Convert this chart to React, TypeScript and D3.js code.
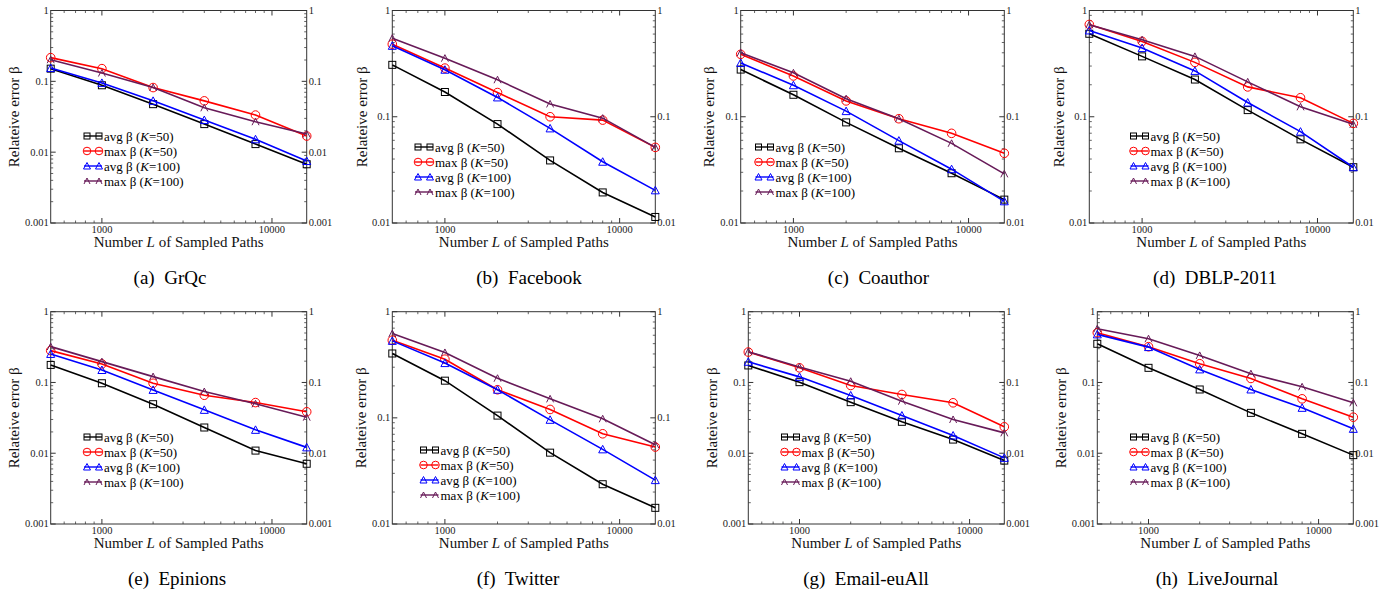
import React from "react";
import * as d3 from "d3";

// ---------- data ----------
const sampledPaths = [500, 1000, 2000, 4000, 8000, 16000];
const datasetNames = ["GrQc", "Facebook", "Coauthor", "DBLP-2011", "Epinions", "Twitter", "Email-euAll", "LiveJournal"];
const panelLetters = ["a", "b", "c", "d", "e", "f", "g", "h"];
const yMinValues = [0.001, 0.01, 0.01, 0.01, 0.001, 0.01, 0.001, 0.001];
const xTickLabels = ["1000", "10000"];
const seriesLabels = ["avg β", "max β", "avg β", "max β"];
const seriesK = ["50", "50", "100", "100"];

const avgK50 = [
  [0.151, 0.088, 0.0476, 0.0249, 0.013, 0.00675],
  [0.308, 0.171, 0.0853, 0.0388, 0.0194, 0.0114],
  [0.278, 0.161, 0.0885, 0.0505, 0.0294, 0.0166],
  [0.604, 0.37, 0.224, 0.1155, 0.0613, 0.0335],
  [0.177, 0.0975, 0.0493, 0.0231, 0.0109, 0.0071],
  [0.404, 0.224, 0.105, 0.047, 0.0237, 0.0142],
  [0.174, 0.101, 0.0527, 0.0278, 0.0156, 0.00787],
  [0.352, 0.161, 0.0796, 0.0372, 0.0188, 0.0094],
];
const maxK50 = [
  [0.216, 0.151, 0.0817, 0.053, 0.0334, 0.0169],
  [0.482, 0.287, 0.169, 0.1, 0.093, 0.0515],
  [0.387, 0.242, 0.141, 0.0958, 0.0698, 0.0453],
  [0.739, 0.512, 0.325, 0.191, 0.151, 0.0866],
  [0.282, 0.183, 0.0975, 0.066, 0.052, 0.0385],
  [0.539, 0.357, 0.184, 0.12, 0.0708, 0.0531],
  [0.269, 0.161, 0.0907, 0.0676, 0.0516, 0.0236],
  [0.505, 0.32, 0.184, 0.114, 0.0587, 0.0323],
];
const avgK100 = [
  [0.154, 0.095, 0.053, 0.0284, 0.0152, 0.0075],
  [0.465, 0.277, 0.152, 0.0777, 0.0377, 0.0203],
  [0.321, 0.198, 0.113, 0.0596, 0.0321, 0.016],
  [0.649, 0.443, 0.27, 0.136, 0.0724, 0.0335],
  [0.253, 0.15, 0.0785, 0.041, 0.0214, 0.0121],
  [0.531, 0.328, 0.184, 0.0958, 0.0505, 0.0259],
  [0.196, 0.12, 0.0655, 0.0341, 0.0178, 0.0086],
  [0.478, 0.316, 0.153, 0.0796, 0.0438, 0.0221],
];
const maxK100 = [
  [0.202, 0.131, 0.082, 0.0423, 0.0269, 0.018],
  [0.549, 0.356, 0.223, 0.132, 0.097, 0.0515],
  [0.401, 0.259, 0.148, 0.0958, 0.0562, 0.029],
  [0.734, 0.531, 0.37, 0.213, 0.124, 0.0848],
  [0.321, 0.197, 0.121, 0.0744, 0.0499, 0.0323],
  [0.622, 0.413, 0.236, 0.151, 0.098, 0.0558],
  [0.272, 0.165, 0.104, 0.0544, 0.03, 0.0194],
  [0.575, 0.415, 0.241, 0.133, 0.0868, 0.0516],
];
const allSeries = [avgK50, maxK50, avgK100, maxK100];

// ---------- layout & style ----------
const COLORS = ["#000000", "#ff0000", "#0000ff", "#671a58"];
const MARKERS = ["square", "circle", "triangle", "caret"];
const FONT = "Liberation Serif";

const LAYOUT = [
  { l: 50.7, r: 306.7, t: 10.5, b: 223, yt: 14, cap: 170, lx: 84, ly: 136 },
  { l: 392.3, r: 655.3, t: 10.5, b: 223, yt: 361.5, cap: 529, lx: 415, ly: 147 },
  { l: 740.7, r: 1004.3, t: 10.5, b: 223, yt: 708.5, cap: 878.5, lx: 755.5, ly: 147 },
  { l: 1089.3, r: 1353.3, t: 10.5, b: 223, yt: 1058.5, cap: 1215, lx: 1130.5, ly: 136 },
  { l: 50.7, r: 306.7, t: 311.7, b: 524, yt: 14, cap: 177, lx: 84, ly: 437 },
  { l: 392.3, r: 655.3, t: 311.7, b: 524, yt: 360.5, cap: 518, lx: 420.5, ly: 450 },
  { l: 748.3, r: 1004.3, t: 311.7, b: 524, yt: 712, cap: 866, lx: 781.5, ly: 437 },
  { l: 1097.3, r: 1353.3, t: 311.7, b: 524, yt: 1060.5, cap: 1217, lx: 1130.5, ly: 437 },
];

function Marker({ type, x, y, color, s }: { type: string; x: number; y: number; color: string; s: number }) {
  const h = s / 2;
  if (type === "square")
    return <rect x={x - h} y={y - h} width={s} height={s} fill="none" stroke={color} strokeWidth={1} />;
  if (type === "circle") return <circle cx={x} cy={y} r={h + 0.8} fill="none" stroke={color} strokeWidth={1} />;
  if (type === "triangle")
    return (
      <path
        d={`M${x - h - 0.5},${y + h} L${x},${y - h - 0.5} L${x + h + 0.5},${y + h} Z`}
        fill="none"
        stroke={color}
        strokeWidth={1}
      />
    );
  return (
    <path d={`M${x - h},${y + h} L${x},${y - h} L${x + h},${y + h}`} fill="none" stroke={color} strokeWidth={1} />
  );
}

function Panel({ i }: { i: number }) {
  const L = LAYOUT[i];
  const x = d3.scaleLog().domain([500, 16000]).range([L.l, L.r]);
  const y = d3.scaleLog().domain([yMinValues[i], 1]).range([L.b, L.t]);
  const line = d3
    .line<number>()
    .x((_, j) => x(sampledPaths[j]))
    .y((v) => y(v));

  const yMajor: number[] = [];
  const yMinor: number[] = [];
  for (let e = Math.round(Math.log10(yMinValues[i])); e <= 0; e++) {
    yMajor.push(Math.pow(10, e));
    if (e < 0) for (let m = 2; m <= 9; m++) yMinor.push(m * Math.pow(10, e));
  }
  const xMajor = [1000, 10000];
  const xMinor = [600, 700, 800, 900, 2000, 3000, 4000, 5000, 6000, 7000, 8000, 9000];
  const axisColor = "#333";
  const fmt = (v: number) => (v >= 1 ? "1" : String(+v.toPrecision(1)));

  return (
    <g>
      {yMajor.map((v) => (
        <g key={"ym" + v}>
          <line x1={L.l} x2={L.l + 5} y1={y(v)} y2={y(v)} stroke={axisColor} />
          <line x1={L.r} x2={L.r - 5} y1={y(v)} y2={y(v)} stroke={axisColor} />
          <text x={L.l - 2} y={y(v)} dy="0.33em" textAnchor="end" fontSize={10.5} fill="#222">
            {fmt(v)}
          </text>
          <text x={L.r + 2} y={y(v)} dy="0.33em" textAnchor="start" fontSize={10.5} fill="#222">
            {fmt(v)}
          </text>
        </g>
      ))}
      {yMinor.map((v) => (
        <g key={"yn" + v}>
          <line x1={L.l} x2={L.l + 2.5} y1={y(v)} y2={y(v)} stroke="#666" />
          <line x1={L.r} x2={L.r - 2.5} y1={y(v)} y2={y(v)} stroke="#666" />
        </g>
      ))}
      {xMajor.map((v, k) => (
        <g key={"xm" + v}>
          <line x1={x(v)} x2={x(v)} y1={L.b} y2={L.b - 5} stroke={axisColor} />
          <line x1={x(v)} x2={x(v)} y1={L.t} y2={L.t + 5} stroke={axisColor} />
          <text x={x(v)} y={L.b + 9.5} textAnchor="middle" fontSize={10.5} fill="#222">
            {xTickLabels[k]}
          </text>
        </g>
      ))}
      {xMinor.map((v) => (
        <g key={"xn" + v}>
          <line x1={x(v)} x2={x(v)} y1={L.b} y2={L.b - 2.5} stroke="#666" />
          <line x1={x(v)} x2={x(v)} y1={L.t} y2={L.t + 2.5} stroke="#666" />
        </g>
      ))}
      <rect x={L.l} y={L.t} width={L.r - L.l} height={L.b - L.t} fill="none" stroke={axisColor} strokeWidth={1} />

      {allSeries.map((s, k) => (
        <g key={"s" + k}>
          <path d={line(s[i]) || ""} fill="none" stroke={COLORS[k]} strokeWidth={1.6} />
          {s[i].map((v, j) => (
            <Marker key={j} type={MARKERS[k]} x={x(sampledPaths[j])} y={y(v)} color={COLORS[k]} s={7} />
          ))}
        </g>
      ))}

      {allSeries.map((_, k) => {
        const ly = L.ly + k * 15;
        return (
          <g key={"lg" + k}>
            <line x1={L.lx} x2={L.lx + 18} y1={ly} y2={ly} stroke={COLORS[k]} strokeWidth={1.4} />
            <Marker type={MARKERS[k]} x={L.lx + 3} y={ly} color={COLORS[k]} s={6} />
            <Marker type={MARKERS[k]} x={L.lx + 15} y={ly} color={COLORS[k]} s={6} />
            <text x={L.lx + 20} y={ly} dy="0.35em" fontSize={13} fill="#000">
              {seriesLabels[k] + " ("}
              <tspan fontStyle="italic">K</tspan>
              {"=" + seriesK[k] + ")"}
            </text>
          </g>
        );
      })}

      <text x={(L.l + L.r) / 2} y={L.b + 24} textAnchor="middle" fontSize={15} fill="#111">
        {"Number "}
        <tspan fontStyle="italic">L</tspan>
        {" of Sampled Paths"}
      </text>
      <text
        transform={`translate(${L.yt},${(L.t + L.b) / 2}) rotate(-90)`}
        textAnchor="middle"
        dy="0.35em"
        fontSize={15}
        fill="#111"
      >
        Relateive error β
      </text>

      <text x={L.cap} y={L.b + 61} textAnchor="middle" fontSize={19} fill="#000" style={{ whiteSpace: "pre" }}>
        {"(" + panelLetters[i] + ")  " + datasetNames[i]}
      </text>
    </g>
  );
}

export default function App() {
  return (
    <svg
      width={1391}
      height={597}
      style={{ position: "absolute", left: 0, top: 0, background: "#fff", fontFamily: FONT }}
    >
      <rect width={1391} height={597} fill="#fff" />
      {datasetNames.map((_, i) => (
        <Panel key={i} i={i} />
      ))}
    </svg>
  );
}
